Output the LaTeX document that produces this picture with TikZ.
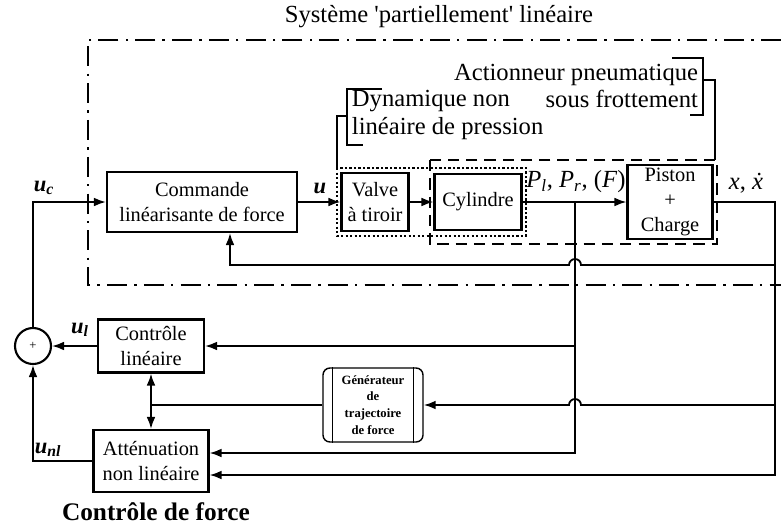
\documentclass[tikz,border=0pt]{standalone}
\usepackage{fontspec}
\setmainfont{Liberation Serif}[Ligatures=TeXOff]
\usetikzlibrary{arrows.meta,positioning}

\begin{document}
\begin{tikzpicture}[x=0.025cm, y=-0.025cm,
    blk/.style={draw, line width=1.5pt, align=center, inner sep=1pt, font=\fontsize{14.5}{18}\selectfont},
    sig/.style={line width=1.3pt},
    arr/.style={sig, -{Latex[length=3mm, width=2.2mm]}},
    lbl/.style={font=\fontsize{17.5}{19.5}\selectfont},
    ulbl/.style={font=\fontsize{16}{18}\selectfont\bfseries\itshape},
    genbox/.style={draw, line width=1pt, rounded corners=5pt, align=center, minimum width=2.5cm, minimum height=1.85cm, font=\fontsize{9}{12}\selectfont\bfseries}
  ]
    \useasboundingbox (0,0) rectangle (781,528);

    \node[lbl] (title) at (439,17) {Système 'partiellement' linéaire};
    \draw[line width=1.6pt, dash pattern=on 0.5cm off 0.18cm on 0.06cm off 0.18cm] (781,40) -- (88,40) -- (88,285) -- (781,285);

    \node[blk, minimum width=4.75cm, minimum height=1.5cm] (cmd) at (202,202) {Commande\\linéarisante de force};
    \node[blk, minimum width=1.675cm, minimum height=1.45cm] (valve) at (375,202) {Valve\\à tiroir};
    \node[blk, minimum width=2.175cm, minimum height=1.4cm] (cyl) at (478,202) {Cylindre};
    \node[blk, minimum width=2.125cm, minimum height=1.85cm] (piston) at (670,202) {Piston\\+\\Charge};

    \node[blk, circle, minimum size=0.9cm, inner sep=0pt, font=\small] (sum) at (33,346) {+};
    \node[blk, minimum width=2.65cm, minimum height=1.325cm] (lin) at (151,346) {Contrôle\\linéaire};
    \node[blk, minimum width=2.875cm, minimum height=1.55cm] (att) at (151,461) {Atténuation\\non linéaire};
    \node[genbox] (gen) at (373,405) {Générateur\\de\\trajectoire\\de force};
    \draw[line width=1pt] ([xshift=0.25cm]gen.north west) -- ([xshift=0.25cm]gen.south west);
    \draw[line width=1pt] ([xshift=-0.25cm]gen.north east) -- ([xshift=-0.25cm]gen.south east);

    \draw[line width=1.2pt, dash pattern=on 1.6pt off 1.6pt] (337,168) rectangle (526,236);
    \draw[line width=1.3pt, dash pattern=on 8pt off 5pt] (430,160) rectangle (717,244);

    \node[lbl, anchor=west, align=left] (dyn) at (347,115) {Dynamique non\\linéaire de pression};
    \node[lbl, anchor=east, align=right] (act) at (703,86) {Actionneur pneumatique\\sous frottement};
    \draw[sig] (337,168) -- (337,116) -- (347,116);
    \draw[sig] (382,89) -- (347,89) -- (347,145) -- (363,145);
    \draw[sig] (672,58) -- (703,58) -- (703,115) -- (690,115);
    \draw[sig] (703,80) -- (715,80) -- (715,160);

    \coordinate (xo) at (775,202);
    \coordinate (xb) at (775,475);
    \coordinate (xc) at (775,265);
    \coordinate (xg) at (775,405);
    \coordinate (fb) at (230,265);
    \coordinate (pj) at (575,202);
    \coordinate (pa) at (575,453);
    \coordinate (pl) at (575,346);

    \draw[arr] (sum.north) -- (sum.north |- cmd.west) -- (cmd.west);
    \draw[arr] (cmd.east) -- (valve.west);
    \draw[arr] (valve.east) -- (cyl.west);
    \draw[arr] (cyl.east) -- (piston.west);
    \draw[arr] (piston.east) -- (xo) -- (xb) -- (xb -| att.east);
    \draw[arr] (xc) -- (581,265) arc[start angle=0, end angle=180, radius=0.15cm] -- (fb) -- (fb |- cmd.south);
    \draw[arr] (xg) -- (581,405) arc[start angle=0, end angle=180, radius=0.15cm] -- (gen.east);
    \draw[arr] (pj) -- (pa) -- (pa -| att.east);
    \draw[arr] (pl) -- (lin.east);
    \draw[sig] (gen.west) -- (gen.west -| lin.south);
    \draw[sig, {Latex[length=3mm, width=2.2mm]}-{Latex[length=3mm, width=2.2mm]}] (lin.south) -- (att.north);
    \draw[arr] (lin.west) -- (sum.east);
    \draw[arr] (att.west) -- (att.west -| sum.south) -- (sum.south);

    \node[ulbl] (uc) at (44,188) {u\textsubscript{c}};
    \node[ulbl] (u) at (320,188) {u};
    \node[ulbl] (ul) at (80,330) {u\textsubscript{l}};
    \node[ulbl] (unl) at (48,450) {u\textsubscript{nl}};
    \node[lbl] (plab) at (576,182) {\textit{P}\textsubscript{\textit{l}}, \textit{P}\textsubscript{\textit{r}}, (\textit{F})};
    \node[lbl] (xlab) at (746,183) {\textit{x}, \textit{\.x}};

    \node[font=\fontsize{18}{20}\selectfont\bfseries] (ctrl) at (156,512) {Contrôle de force};
  \end{tikzpicture}
\end{document}
